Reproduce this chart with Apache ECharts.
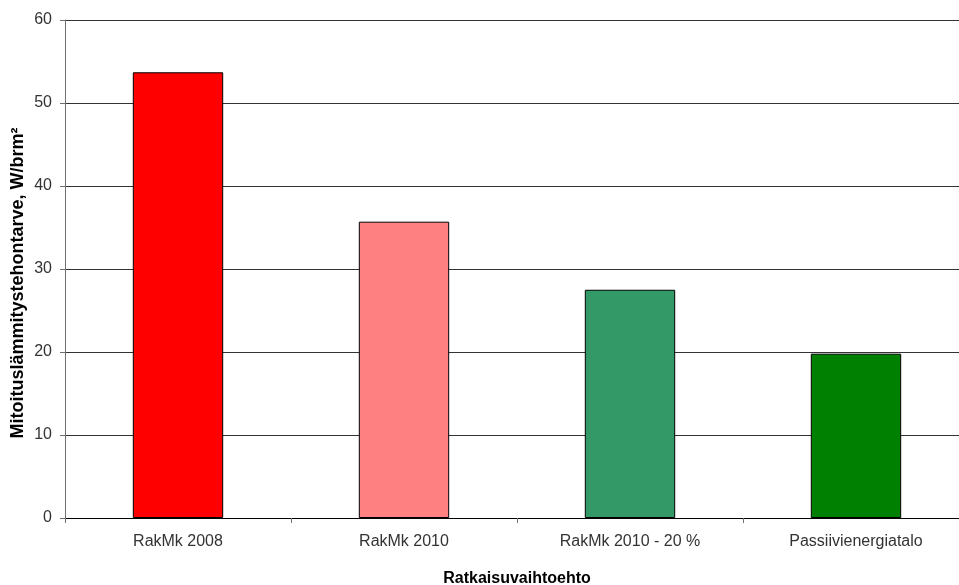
<!DOCTYPE html>
<html>
<head>
<meta charset="utf-8">
<script src="https://cdn.jsdelivr.net/npm/echarts@6/dist/echarts.min.js"></script>
<style>
  html, body { margin: 0; padding: 0; background: #fff; overflow: hidden; }
  /* the plot runs slightly past the right edge of the window */
  #chart { width: 975px; height: 585px; }
</style>
</head>
<body>
<div id="chart"></div>
<script>
// Design heating power demand per solution alternative
const categories = ['RakMk 2008', 'RakMk 2010', 'RakMk 2010 - 20 %', 'Passiivienergiatalo'];
const values = [53.7, 35.7, 27.5, 19.8];
const barColors = ['#FF0000', '#FF8080', '#339966', '#008000'];
const yTicks = [0, 10, 20, 30, 40, 50, 60];
const xTitle = 'Ratkaisuvaihtoehto';
const yTitle = 'Mitoituslämmitystehontarve, W/brm²';

const chart = echarts.init(document.getElementById('chart'), null, { renderer: 'canvas' });

chart.setOption({
  animation: false,
  backgroundColor: '#ffffff',
  grid: { left: 65, right: 6, top: 20, bottom: 67, containLabel: false, outerBoundsMode: 'none' },
  xAxis: {
    type: 'category',
    data: categories,
    name: xTitle,
    nameLocation: 'middle',
    nameGap: 53,
    nameTextStyle: { fontFamily: 'Liberation Sans', fontSize: 16, fontWeight: 'bold', color: '#000' },
    axisLine: { lineStyle: { color: '#000', width: 1 } },
    axisTick: { show: true, alignWithLabel: false, length: 5, lineStyle: { color: '#707070' } },
    axisLabel: { fontFamily: 'Liberation Sans', fontSize: 16, color: '#333', margin: 16 }
  },
  yAxis: {
    type: 'value',
    min: yTicks[0],
    max: yTicks[yTicks.length - 1],
    interval: 10,
    axisLine: { show: true, lineStyle: { color: '#707070', width: 1 } },
    axisTick: { show: true, length: 5, lineStyle: { color: '#707070' } },
    axisLabel: { fontFamily: 'Liberation Sans', fontSize: 16, color: '#333', margin: 13 },
    splitLine: { show: true, lineStyle: { color: '#333', width: 1 } }
  },
  graphic: [{
    type: 'text',
    x: 18,
    y: 283,
    rotation: Math.PI / 2,
    style: {
      text: yTitle,
      fontFamily: 'Liberation Sans',
      fontSize: 18,
      fontWeight: 'bold',
      fill: '#000',
      align: 'center',
      verticalAlign: 'middle'
    }
  }],
  series: [{
    type: 'bar',
    barWidth: '40%',
    data: values.map((v, i) => ({
      value: v,
      itemStyle: { color: barColors[i], borderColor: '#000', borderWidth: 1 }
    }))
  }]
});
</script>
</body>
</html>
